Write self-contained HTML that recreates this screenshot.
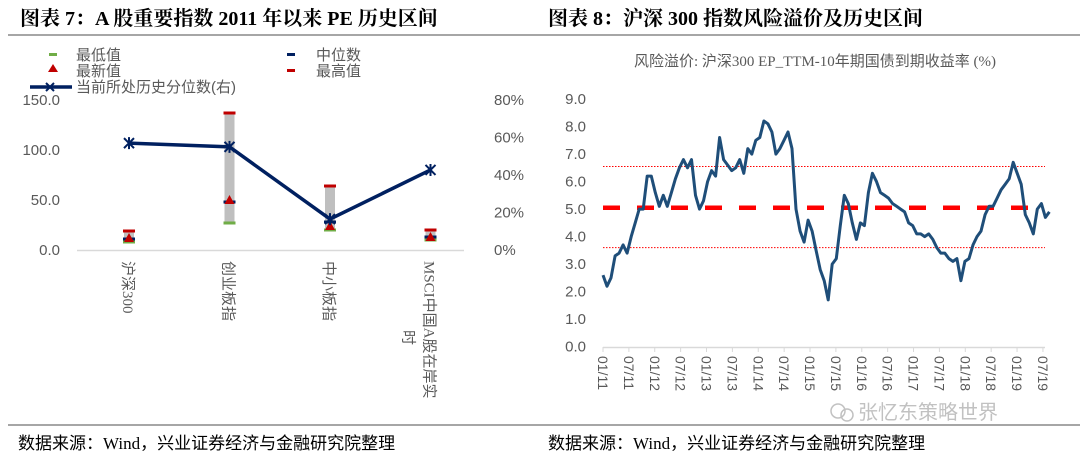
<!DOCTYPE html>
<html><head><meta charset="utf-8"><style>
body{margin:0;width:1080px;height:462px;background:#fff;overflow:hidden;font-family:"Liberation Serif","Noto Serif CJK SC",serif}
svg{display:block}
</style></head><body>
<svg id="s" width="1080" height="462" xmlns="http://www.w3.org/2000/svg">
<text x="20" y="25" font-size="20" font-weight="bold" fill="#000" font-family="Liberation Serif,Noto Serif CJK SC,serif">图表 7：A 股重要指数 2011 年以来 PE 历史区间</text>
<text x="548" y="25" font-size="20" font-weight="bold" fill="#000" font-family="Liberation Serif,Noto Serif CJK SC,serif">图表 8：沪深 300 指数风险溢价及历史区间</text>
<line x1="8" y1="35" x2="1080" y2="35" stroke="#888" stroke-width="1.5"/>
<line x1="8" y1="425" x2="1080" y2="425" stroke="#888" stroke-width="1.5"/>
<text x="18" y="449" font-size="17" fill="#000" font-family="Liberation Serif,Noto Sans CJK SC,sans-serif">数据来源：Wind，兴业证券经济与金融研究院整理</text>
<text x="548" y="449" font-size="17" fill="#000" font-family="Liberation Serif,Noto Sans CJK SC,sans-serif">数据来源：Wind，兴业证券经济与金融研究院整理</text>
<g opacity="0.6">
<circle cx="838" cy="411" r="7" fill="none" stroke="#999" stroke-width="1.5"/>
<circle cx="847" cy="415" r="6" fill="none" stroke="#999" stroke-width="1.5"/>
<text x="858" y="419" font-size="20" fill="#999" font-family="Noto Sans CJK SC,sans-serif">张忆东策略世界</text>
</g>
<g id="left"></g>
<g id="right"></g>
</svg>
<script>
const NS="http://www.w3.org/2000/svg";
function mk(p,t,a){const e=document.createElementNS(NS,t);for(const k in a)e.setAttribute(k,a[k]);p.appendChild(e);return e;}
// ---- Left chart data ----
const categories=["沪深300","创业板指","中小板指","MSCI中国A股在岸实时"];
const minVals=[8,27,20,10];
const maxVals=[19,137,64,20];
const medianVals=[11,48,28,13];
const latestVals=[11,49,23,12];
const percentileVals=[57,55,16.5,42.7];
const leftTicks=[0,50,100,150];
const rightTicks=[0,20,40,60,80];
const L=document.getElementById('left');
const yL=v=>250-v*1.0;
const yR=v=>250-v/80*150;
const xC=i=>129+i*100.5;
const F='Liberation Sans,Noto Sans CJK SC,sans-serif';
leftTicks.forEach(t=>{const e=mk(L,'text',{x:60,y:yL(t)+5,'text-anchor':'end','font-size':15,fill:'#595959','font-family':F});e.textContent=t.toFixed(1);

});
rightTicks.forEach(t=>{const e=mk(L,'text',{x:494,y:yR(t)+5,'font-size':15,fill:'#595959','font-family':F});e.textContent=t+'%';

});
const ax=mk(L,'line',{x1:77,y1:250.5,x2:464,y2:250.5,stroke:'#d9d9d9','stroke-width':1.5});


const CF='Liberation Serif,Noto Sans CJK SC,sans-serif';
categories.forEach((c,i)=>{
  const x=xC(i);
  const r=mk(L,'rect',{x:x-5,y:yL(maxVals[i]),width:10,height:yL(minVals[i])-yL(maxVals[i]),fill:'#bfbfbf'});
  
  
  const mn=mk(L,'rect',{x:x-6,y:yL(minVals[i])-1.5,width:12,height:3,fill:'#70ad47'});
  
  
  const mx=mk(L,'rect',{x:x-6,y:yL(maxVals[i])-1.5,width:12,height:3,fill:'#c00000'});
  
  
  const md=mk(L,'rect',{x:x-6,y:yL(medianVals[i])-1.5,width:12,height:3,fill:'#002060'});
  
  
  const ly=yL(latestVals[i]);
  const tr=mk(L,'polygon',{points:`${x},${ly-6} ${x-5},${ly+3} ${x+5},${ly+3}`,fill:'#c00000'});
  
  
  const lb=mk(L,'text',{transform:`translate(${x-6},261) rotate(90)`,'font-size':15,fill:'#595959','font-family':CF});
  if(c.length>10){lb.textContent=c.slice(0,c.length-1);const t2=mk(L,'text',{transform:`translate(${x-27},330) rotate(90)`,'font-size':15,fill:'#595959','font-family':CF});t2.textContent=c.slice(c.length-1);
    
    }
  else lb.textContent=c;
  
  
});
const pl=mk(L,'polyline',{points:percentileVals.map((v,i)=>xC(i)+','+yR(v)).join(' '),fill:'none',stroke:'#002060','stroke-width':3.5});


percentileVals.forEach((v,i)=>{const x=xC(i),y=yR(v);const g=mk(L,'path',{d:`M${x-5} ${y-5}L${x+5} ${y+5}M${x-5} ${y+5}L${x+5} ${y-5}M${x} ${y-6}L${x} ${y+6}`,stroke:'#002060','stroke-width':2});

});
// legend
const lg=mk(L,'g',{});


mk(lg,'rect',{x:49,y:53,width:8,height:3,fill:'#70ad47'});
mk(lg,'polygon',{points:'53,64 48,72 58,72',fill:'#c00000'});
mk(lg,'rect',{x:287,y:53,width:8,height:3,fill:'#002060'});
mk(lg,'rect',{x:287,y:69,width:8,height:3,fill:'#c00000'});
mk(lg,'line',{x1:30,y1:87,x2:72,y2:87,stroke:'#002060','stroke-width':3.5});
mk(lg,'path',{d:'M46 83L54 91M46 91L54 83',stroke:'#002060','stroke-width':2});
[['最低值',76,60],['最新值',76,76],['当前所处历史分位数(右)',76,92],['中位数',316,60],['最高值',316,76]].forEach(a=>{const e=mk(lg,'text',{x:a[1],y:a[2],'font-size':15,fill:'#595959','font-family':F});e.textContent=a[0];

});
// ---- Right chart data ----
const rpValues=[2.6,2.2,2.5,3.3,3.4,3.7,3.4,4.0,4.5,5.0,5.0,6.2,6.2,5.6,5.1,5.5,5.1,5.6,6.1,6.5,6.8,6.5,6.8,5.5,5.0,5.3,6.0,6.4,6.2,7.6,6.8,6.6,6.4,6.5,6.8,6.3,7.2,7.0,7.5,7.6,8.2,8.1,7.8,7.0,7.2,7.5,7.8,7.2,5.0,4.2,3.8,4.6,4.2,3.5,2.8,2.4,1.7,3.0,3.2,4.4,5.5,5.2,4.5,3.9,4.5,4.4,5.6,6.3,6.0,5.6,5.5,5.4,5.2,5.1,5.0,4.9,4.5,4.4,4.1,4.1,4.0,4.1,3.9,3.6,3.4,3.4,3.2,3.1,3.2,2.4,3.1,3.2,3.7,4.0,4.2,4.8,5.1,5.1,5.4,5.7,5.9,6.1,6.7,6.3,5.9,4.8,4.5,4.1,5.0,5.2,4.7,4.9];
const rpSpanMonths=103.5;
const rpMean=5.05, rpUpper=6.55, rpLower=3.6;
const rpYTicks=[0,1,2,3,4,5,6,7,8,9];
const rpXLabels=["01/11","07/11","01/12","07/12","01/13","07/13","01/14","07/14","01/15","07/15","01/16","07/16","01/17","07/17","01/18","07/18","01/19","07/19"];
const R=document.getElementById('right');
const xm=m=>603+m*4.313;
const yv=v=>346.7-v*27.52;
const tt=mk(R,'text',{x:815,y:66,'text-anchor':'middle','font-size':15,fill:'#595959','font-family':'Liberation Serif,Noto Sans CJK SC,sans-serif'});tt.textContent='风险溢价: 沪深300 EP_TTM-10年期国债到期收益率 (%)';


rpYTicks.forEach(t=>{const e=mk(R,'text',{x:586,y:yv(t)+5,'text-anchor':'end','font-size':15,fill:'#595959','font-family':F});e.textContent=t.toFixed(1);

});
const rax=mk(R,'line',{x1:603,y1:347.5,x2:1045,y2:347.5,stroke:'#d9d9d9','stroke-width':1.5});


rpXLabels.forEach((l,i)=>{const x=xm(i*6);mk(R,'line',{x1:x,y1:347,x2:x,y2:352,stroke:'#d9d9d9'});const e=mk(R,'text',{transform:`translate(${x-5},356) rotate(90)`,'font-size':14,fill:'#595959','font-family':F});e.textContent=l;

});
[[rpUpper,'rp-upper-band'],[rpLower,'rp-lower-band']].forEach(a=>{const e=mk(R,'line',{x1:603,y1:yv(a[0]),x2:1045,y2:yv(a[0]),stroke:'#ff0000','stroke-width':1,'stroke-dasharray':'1.5 1.5'});

});
const mline=mk(R,'line',{x1:603,y1:yv(rpMean),x2:1040,y2:yv(rpMean),stroke:'#ff0000','stroke-width':4.5,'stroke-dasharray':'17 17'});


const step=rpSpanMonths/(rpValues.length-1);
const rl=mk(R,'polyline',{points:rpValues.map((v,i)=>xm(i*step).toFixed(1)+','+yv(v).toFixed(1)).join(' '),fill:'none',stroke:'#1f4e79','stroke-width':3,'stroke-linejoin':'round'});


</script>
</body></html>
